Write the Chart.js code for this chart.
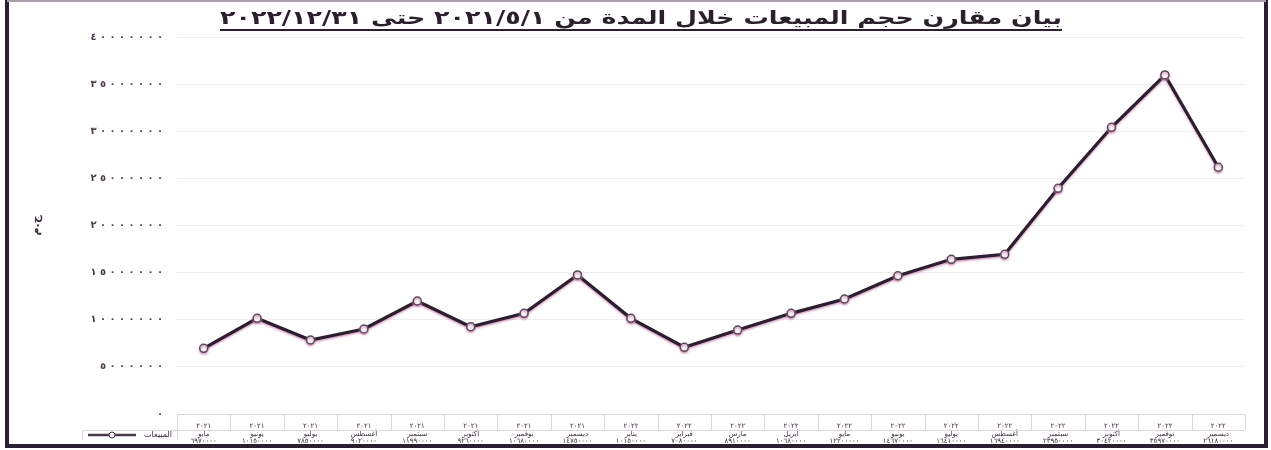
<!DOCTYPE html>
<html lang="ar">
<head>
<meta charset="utf-8">
<script src="https://cdn.jsdelivr.net/npm/chart.js@4"></script>
<style>
html,body{margin:0;padding:0;background:#fff;}
#wrap{width:1271px;height:450px;}
</style>
</head>
<body>
<div id="wrap"><canvas id="salesChart" dir="rtl"></canvas></div>
<script>

// ===================== DATA =====================
const months = ["مايو","يونيو","يوليو","أغسطس","سبتمبر","أكتوبر","نوفمبر","ديسمبر","يناير","فبراير","مارس","أبريل","مايو","يونيو","يوليو","أغسطس","سبتمبر","أكتوبر","نوفمبر","ديسمبر"];
const years = ["٢٠٢١","٢٠٢١","٢٠٢١","٢٠٢١","٢٠٢١","٢٠٢١","٢٠٢١","٢٠٢١","٢٠٢٢","٢٠٢٢","٢٠٢٢","٢٠٢٢","٢٠٢٢","٢٠٢٢","٢٠٢٢","٢٠٢٢","٢٠٢٢","٢٠٢٢","٢٠٢٢","٢٠٢٢"];
const sales = [6970000,10150000,7850000,9020000,11990000,9260000,10680000,14750000,10150000,7080000,8910000,10680000,12200000,14670000,16410000,16940000,23950000,30420000,35970000,26180000];
const yTicks = [0,5000000,10000000,15000000,20000000,25000000,30000000,35000000,40000000];

const seriesName = "المبيعات";
const titleText = "بيان مقارن حجم المبيعات خلال المدة من ٢٠٢١/٥/١ حتى ٢٠٢٢/١٢/٣١";

// western digits -> arabic-indic
function arDigits(n){
return String(n).replace(/\d/g, d => "٠١٢٣٤٥٦٧٨٩"[d]);
}

const fontAr = "'DejaVu Sans', sans-serif";

// ===================== PLUGINS =====================
// pink halo like the scan
const haloPlugin = {
id:"halo",
beforeDatasetsDraw(chart){
const ctx = chart.ctx;
ctx.save();
ctx.shadowColor = "rgba(200,120,170,0.75)";
ctx.shadowBlur = 2;
ctx.shadowOffsetY = 1.5;
},
afterDatasetsDraw(chart){
chart.ctx.restore();
}
};

// y labels (wide digit spacing), title, data-table grid, legend key, frame
const extrasPlugin = {
id:"extras",
afterDraw(chart){
const ctx = chart.ctx;
const area = chart.chartArea;
const yScale = chart.scales.y;

ctx.save();

// y tick labels, one digit every 9.5px like the scan
ctx.font = "bold 10px " + fontAr;
ctx.fillStyle = "#4a3a4a";
ctx.textAlign = "right";
ctx.textBaseline = "middle";
yTicks.forEach(v => {
const s = arDigits(v);
const py = yScale.getPixelForValue(v);
for(let i=s.length-1;i>=0;i--){
ctx.fillText(s[i], 163 - (s.length-1-i)*9.5, py);
}
});

// title, stretched to the scan width
ctx.font = "bold 19px " + fontAr;
ctx.fillStyle = "#2a1f2a";
ctx.textAlign = "center";
ctx.textBaseline = "alphabetic";
const tw = ctx.measureText(titleText).width;
const sx = 842 / tw;
ctx.save();
ctx.translate(641, 24);
ctx.scale(sx, 1);
ctx.fillText(titleText, 0, 0);
ctx.restore();
ctx.strokeStyle = "#2a1f2a";
ctx.lineWidth = 2;
ctx.beginPath();
ctx.moveTo(641 - 421, 30);
ctx.lineTo(641 + 421, 30);
ctx.stroke();

// data table grid
const top = area.bottom;
const mid = top + 16;
const bot = top + 26;
const step = (area.right - area.left)/months.length;
ctx.strokeStyle = "#dcd6dc";
ctx.lineWidth = 1;
ctx.beginPath();
for(let i=0;i<=months.length;i++){
const px = Math.round(area.left + i*step) + 0.5;
ctx.moveTo(px, top);
ctx.lineTo(px, mid);
}
ctx.moveTo(area.left, top + 0.5);
ctx.lineTo(area.right, top + 0.5);
ctx.moveTo(82, mid + 0.5);
ctx.lineTo(area.right, mid + 0.5);
ctx.moveTo(82.5, mid);
ctx.lineTo(82.5, bot);
ctx.moveTo(area.left + 0.5, mid);
ctx.lineTo(area.left + 0.5, bot);
ctx.stroke();

// legend key in the table
const ky = mid + 5;
ctx.strokeStyle = "#4a3a4a";
ctx.lineWidth = 2.5;
ctx.beginPath();
ctx.moveTo(88, ky);
ctx.lineTo(136, ky);
ctx.stroke();
ctx.fillStyle = "#f4eef4";
ctx.lineWidth = 1;
ctx.beginPath();
ctx.arc(112, ky, 3, 0, Math.PI*2);
ctx.fill();
ctx.stroke();
ctx.fillStyle = "#3a2a3a";
ctx.font = "8px " + fontAr;
ctx.textAlign = "right";
ctx.textBaseline = "middle";
ctx.fillText(seriesName, 172, ky);

// frame of the scanned page
ctx.strokeStyle = "#2a2030";
ctx.lineWidth = 4;
ctx.beginPath();
ctx.moveTo(7, 0);
ctx.lineTo(7, 446);
ctx.lineTo(1266, 446);
ctx.lineTo(1266, 0);
ctx.stroke();
ctx.strokeStyle = "#a8a0a8";
ctx.lineWidth = 2;
ctx.beginPath();
ctx.moveTo(7, 1);
ctx.lineTo(1266, 1);
ctx.stroke();

ctx.restore();
}
};

// ===================== CHART =====================
const ctx = document.getElementById("salesChart");

new Chart(ctx,{

type:"line",

data:{
labels:months,
datasets:[{
label:seriesName,
data:sales,
borderColor:"#2a1f2f",
borderWidth:3.2,
pointRadius:4,
pointBackgroundColor:"#f6f0f6",
pointBorderColor:"#5a4a5a",
pointBorderWidth:1.5,
tension:0,
fill:false
}]
},

options:{
responsive:true,
maintainAspectRatio:false,
animation:false,
layout:{
padding:{left:10,right:26,top:37,bottom:6}
},
plugins:{
legend:{display:false},
tooltip:{enabled:false},
title:{display:false}
},
scales:{
x:{
offset:true,
grid:{display:false},
border:{display:false},
afterFit(scale){ scale.height = 30; },
ticks:{
autoSkip:false,
maxRotation:0,
padding:1,
color:"#3a2a3a",
font:{family:fontAr,size:7,lineHeight:1.05},
callback(value, i){
return [years[i], months[i], arDigits(sales[i])];
}
}
},
y:{
min:0,
max:40000000,
afterFit(scale){ scale.width = 167; },
afterBuildTicks(scale){
scale.ticks = yTicks.map(v => ({value:v}));
},
grid:{color:"rgba(120,110,120,0.12)",drawTicks:false},
border:{display:false},
title:{
display:true,
text:"ج.م",
color:"#3a2a3a",
font:{family:fontAr,size:11,weight:"bold"},
padding:{top:20,bottom:0}
},
ticks:{display:false}
}
}
},

plugins:[haloPlugin, extrasPlugin]

});

</script>
</body>
</html>
